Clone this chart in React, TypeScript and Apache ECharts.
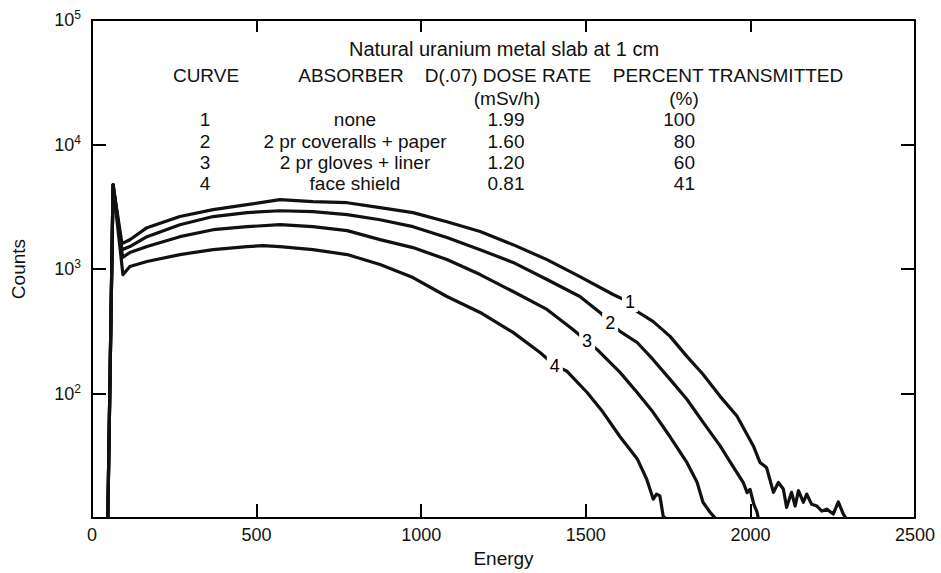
import React, { useEffect, useRef } from "react";
import * as echarts from "echarts";

// ---- Data ----
const curve1E = [48, 64, 91, 115, 167, 267, 368, 471, 571, 671, 775, 875, 975, 1078, 1179, 1279, 1382, 1482, 1583, 1634, 1656, 1704, 1756, 1807, 1856, 1908, 1959, 2009, 2029, 2049, 2070, 2085, 2100, 2110, 2125, 2136, 2146, 2161, 2171, 2186, 2202, 2217, 2232, 2252, 2267, 2282, 2290];
const curve1C = [10, 4750, 1600, 1720, 2150, 2640, 3000, 3290, 3610, 3480, 3410, 3110, 2840, 2400, 2000, 1570, 1190, 870, 625, 539, 456, 380, 288, 199, 143, 95, 66, 38, 28, 25.5, 16.1, 19.3, 17.1, 12.2, 16.1, 12.5, 16.6, 13.4, 15.6, 12.9, 12.5, 11.4, 11.8, 10.8, 13.5, 10.8, 10];

const curve2E = [48, 64, 91, 115, 167, 267, 368, 471, 571, 671, 775, 875, 975, 1078, 1179, 1279, 1382, 1482, 1543, 1574, 1604, 1656, 1704, 1756, 1807, 1856, 1908, 1947, 1978, 1990, 1999, 2010, 2020, 2024];
const curve2C = [10, 4750, 1430, 1515, 1820, 2270, 2640, 2840, 2940, 2890, 2735, 2490, 2190, 1790, 1430, 1130, 824, 602, 448, 372, 316, 257, 188, 130, 90, 59, 38, 26, 19.4, 16, 17, 13, 11.2, 10];

const curve3E = [48, 64, 93, 115, 167, 267, 368, 471, 571, 671, 775, 875, 975, 1078, 1179, 1279, 1382, 1461, 1504, 1534, 1604, 1656, 1704, 1756, 1807, 1838, 1856, 1877, 1893];
const curve3C = [10, 4750, 1240, 1356, 1515, 1820, 2070, 2190, 2270, 2190, 2035, 1724, 1487, 1192, 903, 660, 474, 327, 262, 226, 148, 102, 71, 45, 28, 19.4, 13.4, 11.2, 10];

const curve4E = [48, 64, 94, 115, 167, 267, 368, 471, 519, 571, 671, 775, 875, 975, 1078, 1179, 1279, 1361, 1406, 1443, 1504, 1552, 1604, 1656, 1685, 1705, 1715, 1725, 1735, 1741];
const curve4C = [10, 4750, 900, 1047, 1149, 1307, 1433, 1515, 1543, 1515, 1433, 1307, 1087, 855, 602, 448, 310, 214, 168, 151, 102, 71, 45, 30, 20.5, 14.2, 15.6, 15.1, 10.4, 10];

const curveLabelE = [1634, 1574, 1504, 1406];
const curveLabelC = [539, 372, 262, 168];
const curveLabelText = ["1", "2", "3", "4"];

const xTicks = [0, 500, 1000, 1500, 2000, 2500];

const tableTitle = "Natural uranium metal slab at 1 cm";
const tableHeaders = ["CURVE", "ABSORBER", "D(.07) DOSE RATE", "PERCENT TRANSMITTED"];
const tableUnits = ["(mSv/h)", "(%)"];
const tableCurve = ["1", "2", "3", "4"];
const tableAbsorber = ["none", "2 pr coveralls + paper", "2 pr gloves + liner", "face shield"];
const tableDose = ["1.99", "1.60", "1.20", "0.81"];
const tablePercent = ["100", "80", "60", "41"];

const FONT = "'Liberation Sans', Arial, Helvetica, sans-serif";
const INK = "#111";

function pairs(e: number[], c: number[]) {
  return e.map((v, i) => [v, c[i]]);
}

function txt(text: string, x: number, y: number, align: string, size: number) {
  return {
    type: "text",
    x,
    y,
    silent: true,
    style: {
      text,
      fill: INK,
      fontSize: size,
      fontFamily: FONT,
      align,
      verticalAlign: "middle",
    },
  };
}

export default function App() {
  const ref = useRef<HTMLDivElement>(null);

  useEffect(() => {
    if (!ref.current) return;
    const chart = echarts.init(ref.current, null, { renderer: "svg" });

    const rowsY = [119, 141, 162, 183];
    const graphic: any[] = [];
    graphic.push(txt(tableTitle, 504, 49, "center", 20));
    graphic.push(txt(tableHeaders[0], 206, 75, "center", 19));
    graphic.push(txt(tableHeaders[1], 351, 75, "center", 19));
    graphic.push(txt(tableHeaders[2], 508, 75, "center", 19));
    graphic.push(txt(tableHeaders[3], 728, 75, "center", 19));
    graphic.push(txt(tableUnits[0], 507, 98, "center", 19));
    graphic.push(txt(tableUnits[1], 684, 98, "center", 19));
    rowsY.forEach((y, i) => {
      graphic.push(txt(tableCurve[i], 205, y, "center", 19));
      graphic.push(txt(tableAbsorber[i], 355, y, "center", 19));
      graphic.push(txt(tableDose[i], 506, y, "center", 19));
      graphic.push(txt(tablePercent[i], 695, y, "right", 19));
    });

    const lineSeries = (name: string, e: number[], c: number[]) => ({
      name,
      type: "line",
      data: pairs(e, c),
      showSymbol: false,
      symbol: "none",
      silent: true,
      lineStyle: { color: INK, width: 3.2, join: "round" },
      z: 2,
    });

    const tickStyle = { color: "#000", width: 2 };
    const axisLineStyle = { color: "#000", width: 2 };

    chart.setOption({
      animation: false,
      backgroundColor: "#fff",
      grid: { left: 92, right: 26, top: 20, bottom: 54 },
      xAxis: [
        {
          type: "value",
          min: xTicks[0],
          max: xTicks[xTicks.length - 1],
          interval: 500,
          position: "bottom",
          name: "Energy",
          nameLocation: "middle",
          nameGap: 30,
          nameTextStyle: { fontSize: 19, fontFamily: FONT, color: INK },
          axisLine: { show: true, lineStyle: axisLineStyle },
          axisTick: { show: true, inside: true, length: 14, lineStyle: tickStyle },
          axisLabel: {
            fontSize: 18,
            fontFamily: FONT,
            color: INK,
            margin: 8,
            formatter: (v: number) => String(v),
          },
          splitLine: { show: false },
        },
        {
          type: "value",
          min: xTicks[0],
          max: xTicks[xTicks.length - 1],
          interval: 500,
          position: "top",
          axisLine: { show: true, onZero: false, lineStyle: axisLineStyle },
          axisTick: { show: true, inside: true, length: 12, lineStyle: tickStyle },
          axisLabel: { show: false },
          splitLine: { show: false },
        },
      ],
      yAxis: [
        {
          type: "log",
          logBase: 10,
          min: 10,
          max: 100000,
          position: "left",
          name: "Counts",
          nameLocation: "middle",
          nameRotate: 90,
          nameGap: 64,
          nameTextStyle: { fontSize: 19, fontFamily: FONT, color: INK },
          axisLine: { show: true, lineStyle: axisLineStyle },
          axisTick: { show: true, inside: true, length: 14, lineStyle: tickStyle },
          axisLabel: {
            margin: 11,
            formatter: (v: number) =>
              v <= 10 ? "" : `{b|10}{s|${Math.round(Math.log10(v))}}`,
            rich: {
              b: { fontSize: 18, fontFamily: FONT, color: INK, lineHeight: 22 },
              s: { fontSize: 12, fontFamily: FONT, color: INK, lineHeight: 12, verticalAlign: "top" },
            },
          },
          splitLine: { show: false },
        },
        {
          type: "log",
          logBase: 10,
          min: 10,
          max: 100000,
          position: "right",
          axisLine: { show: true, onZero: false, lineStyle: axisLineStyle },
          axisTick: { show: true, inside: true, length: 14, lineStyle: tickStyle },
          axisLabel: { show: false },
          splitLine: { show: false },
        },
      ],
      series: [
        lineSeries("Curve 1", curve1E, curve1C),
        lineSeries("Curve 2", curve2E, curve2C),
        lineSeries("Curve 3", curve3E, curve3C),
        lineSeries("Curve 4", curve4E, curve4C),
        {
          name: "Curve labels",
          type: "scatter",
          silent: true,
          symbol: "circle",
          symbolSize: 1,
          itemStyle: { color: "#fff", opacity: 1 },
          z: 5,
          data: curveLabelE.map((e, i) => ({ value: [e, curveLabelC[i]], name: curveLabelText[i] })),
          label: {
            show: true,
            position: "inside",
            formatter: "{b}",
            fontSize: 18,
            fontFamily: FONT,
            color: "#000",
            opacity: 1,
            textBorderWidth: 0,
            textBorderColor: "transparent",
            backgroundColor: "#fff",
            padding: [1, 3, 0, 3],
          },
        },
      ],
      graphic,
    });

    return () => chart.dispose();
  }, []);

  return (
    <div
      ref={ref}
      style={{ position: "absolute", left: 0, top: 0, width: 941, height: 573, background: "#fff" }}
    />
  );
}
